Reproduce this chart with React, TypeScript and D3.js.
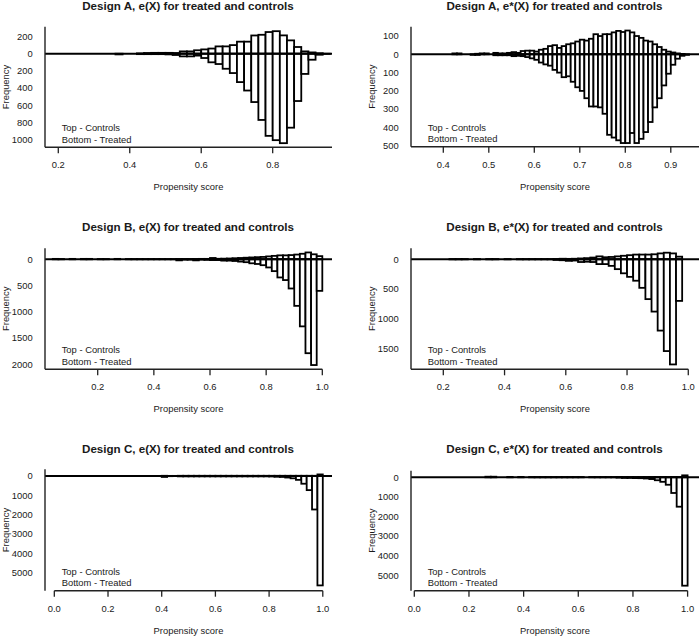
import React from "react";
import * as d3 from "d3";

// ---------- data (counts per bin; controls drawn upward, treated downward) ----------
const aLeftStart = 0.36;
const aLeftBin = 0.02;
const aLeftControls = [0, 0, 0, 3, 8, 10, 10, 10, 8, 27, 27, 40, 50, 60, 85, 85, 100, 140, 140, 212, 220, 252, 262, 213, 155, 78, 27, 15, 5, 0];
const aLeftTreated = [8, 0, 0, 5, 5, 5, 5, 8, 15, 31, 31, 22, 50, 100, 120, 175, 225, 330, 428, 562, 770, 955, 1005, 1040, 860, 550, 235, 70, 12, 2];

const aRightStart = 0.4;
const aRightBin = 0.01;
const aRightControls = [0, 0, 5, 5, 0, 0, 0, 3, 5, 5, 0, 8, 5, 5, 8, 12, 8, 18, 20, 20, 15, 25, 30, 45, 50, 35, 45, 55, 60, 70, 80, 75, 85, 110, 100, 110, 110, 120, 128, 122, 130, 120, 100, 90, 75, 70, 55, 40, 25, 15, 10, 5, 2, 0];
const aRightTreated = [0, 0, 0, 0, 0, 0, 3, 3, 0, 0, 0, 5, 5, 5, 5, 10, 8, 10, 15, 22, 30, 45, 55, 62, 85, 100, 125, 120, 150, 180, 200, 240, 285, 285, 290, 325, 440, 455, 470, 485, 485, 430, 485, 462, 425, 370, 290, 240, 170, 106, 57, 24, 8, 3];

const bLeftStart = 0.04;
const bLeftBin = 0.02;
const bLeftControls = [8, 5, 0, 8, 0, 8, 8, 0, 5, 5, 0, 8, 0, 5, 5, 5, 5, 5, 5, 5, 5, 5, 5, 5, 5, 5, 8, 8, 25, 10, 12, 15, 20, 25, 30, 35, 40, 45, 55, 65, 75, 75, 80, 90, 105, 130, 95, 60];
const bLeftTreated = [0, 0, 0, 0, 0, 0, 0, 0, 0, 0, 0, 0, 0, 0, 0, 0, 0, 0, 0, 0, 0, 0, 20, 5, 5, 20, 5, 10, 15, 15, 25, 25, 32, 44, 55, 76, 89, 112, 155, 225, 345, 395, 555, 885, 1275, 1785, 2010, 600];

const bRightStart = 0.1;
const bRightBin = 0.02;
const bRightControls = [0, 0, 0, 0, 0, 0, 5, 5, 5, 0, 5, 0, 5, 5, 0, 5, 0, 5, 5, 5, 5, 5, 5, 5, 10, 8, 10, 15, 20, 30, 50, 35, 40, 50, 60, 70, 80, 80, 80, 85, 100, 112, 100, 45];
const bRightTreated = [0, 0, 0, 0, 0, 0, 0, 0, 0, 0, 0, 0, 0, 0, 0, 0, 0, 0, 0, 0, 0, 0, 0, 10, 15, 25, 20, 45, 40, 45, 80, 80, 110, 165, 235, 295, 360, 480, 670, 880, 1200, 1545, 1770, 700];

const cLeftStart = 0.0;
const cLeftBin = 0.02;
const cLeftControls = [0, 0, 0, 0, 0, 0, 0, 0, 0, 0, 0, 0, 0, 0, 0, 0, 0, 0, 0, 0, 10, 5, 5, 10, 10, 10, 10, 10, 10, 10, 10, 10, 10, 10, 10, 10, 10, 10, 10, 10, 10, 10, 10, 10, 10, 10, 10, 10, 10, 80];
const cLeftTreated = [0, 0, 0, 0, 0, 0, 0, 0, 0, 0, 0, 0, 0, 0, 0, 0, 0, 0, 0, 0, 50, 10, 5, 20, 20, 20, 20, 20, 20, 20, 20, 20, 20, 20, 20, 20, 20, 20, 20, 20, 25, 40, 50, 80, 120, 200, 400, 730, 1730, 5650];

const cRightStart = 0.0;
const cRightBin = 0.02;
const cRightControls = [0, 0, 0, 0, 0, 0, 0, 0, 0, 0, 0, 0, 0, 30, 30, 0, 0, 20, 0, 20, 0, 15, 15, 15, 15, 15, 15, 15, 15, 15, 15, 0, 15, 15, 15, 15, 15, 15, 10, 10, 10, 10, 10, 10, 10, 10, 10, 10, 10, 100];
const cRightTreated = [0, 0, 0, 0, 0, 0, 0, 0, 0, 0, 0, 0, 0, 0, 0, 0, 0, 0, 0, 0, 0, 0, 0, 0, 0, 0, 0, 0, 0, 0, 0, 0, 0, 0, 0, 0, 0, 10, 30, 30, 40, 45, 60, 90, 150, 230, 380, 800, 1500, 5530];

const titles = [
  "Design A, e(X) for treated and controls",
  "Design A, e*(X) for treated and controls",
  "Design B, e(X) for treated and controls",
  "Design B, e*(X) for treated and controls",
  "Design C, e(X) for treated and controls",
  "Design C, e*(X) for treated and controls",
];

const xTicksA1 = [0.2, 0.4, 0.6, 0.8];
const xTicksA2 = [0.4, 0.5, 0.6, 0.7, 0.8, 0.9];
const xTicksB = [0.2, 0.4, 0.6, 0.8, 1.0];
const xTicksC = [0.0, 0.2, 0.4, 0.6, 0.8, 1.0];

const yUpA1 = [200];
const yDownA1 = [0, 200, 400, 600, 800, 1000];
const yUpA2 = [100];
const yDownA2 = [0, 100, 200, 300, 400, 500];
const yDownB1 = [0, 500, 1000, 1500, 2000];
const yDownB2 = [0, 500, 1000, 1500];
const yDownC = [0, 1000, 2000, 3000, 4000, 5000];

// ---------- layout ----------
type Panel = {
  title: string;
  start: number;
  bin: number;
  controls: number[];
  treated: number[];
  xDomain: [number, number];
  yTop: number;
  yBottom: number;
  left: number;
  right: number;
  top: number;
  bottom: number;
  titleY: number;
  xTicks: number[];
  xFmt: (v: number) => string;
  yUp: number[];
  yDown: number[];
  xLine: [number, number];
};

const fmt1 = d3.format(".1f");

const panels: Panel[] = [
  {
    title: titles[0], start: aLeftStart, bin: aLeftBin, controls: aLeftControls, treated: aLeftTreated,
    xDomain: [0.1628, 0.966], yTop: 314, yBottom: 1088,
    left: 45, right: 332, top: 26.7, bottom: 147.3, titleY: 10,
    xTicks: xTicksA1, xFmt: fmt1, yUp: yUpA1, yDown: yDownA1, xLine: [0.1628, 0.966],
  },
  {
    title: titles[1], start: aRightStart, bin: aRightBin, controls: aRightControls, treated: aRightTreated,
    xDomain: [0.329, 0.962], yTop: 151, yBottom: 505,
    left: 411, right: 699, top: 26.7, bottom: 146.7, titleY: 10,
    xTicks: xTicksA2, xFmt: fmt1, yUp: yUpA2, yDown: yDownA2, xLine: [0.329, 0.962],
  },
  {
    title: titles[2], start: bLeftStart, bin: bLeftBin, controls: bLeftControls, treated: bLeftTreated,
    xDomain: [0.0123, 1.0345], yTop: 209, yBottom: 2091,
    left: 45, right: 332, top: 248.3, bottom: 369.3, titleY: 231.3,
    xTicks: xTicksB, xFmt: fmt1, yUp: [], yDown: yDownB1, xLine: [0.0123, 1.0],
  },
  {
    title: titles[3], start: bRightStart, bin: bRightBin, controls: bRightControls, treated: bRightTreated,
    xDomain: [0.0945, 1.035], yTop: 186, yBottom: 1852,
    left: 411, right: 699, top: 248.3, bottom: 369.3, titleY: 231.3,
    xTicks: xTicksB, xFmt: fmt1, yUp: [], yDown: yDownB2, xLine: [0.0945, 1.0],
  },
  {
    title: titles[4], start: cLeftStart, bin: cLeftBin, controls: cLeftControls, treated: cLeftTreated,
    xDomain: [-0.0347, 1.0343], yTop: 345, yBottom: 5923,
    left: 45, right: 332, top: 469.3, bottom: 590.7, titleY: 453,
    xTicks: xTicksC, xFmt: fmt1, yUp: [], yDown: yDownC, xLine: [0, 1.0],
  },
  {
    title: titles[5], start: cRightStart, bin: cRightBin, controls: cRightControls, treated: cRightTreated,
    xDomain: [-0.0121, 1.0417], yTop: 337, yBottom: 5786,
    left: 411, right: 699, top: 470.7, bottom: 590.7, titleY: 453,
    xTicks: xTicksC, xFmt: fmt1, yUp: [], yDown: yDownC, xLine: [0, 1.0],
  },
];

const FONT = "'Liberation Sans', Arial, Helvetica, sans-serif";
const TXT = "#1a1a1a";

function HistPanel({ p }: { p: Panel }) {
  const x = d3.scaleLinear().domain(p.xDomain).range([p.left, p.right]);
  const y = d3.scaleLinear().domain([p.yTop, -p.yBottom]).range([p.top, p.bottom]);
  const cx = (p.left + p.right) / 2 - 0.5;
  const midY = (p.top + p.bottom) / 2;
  const yLabelRight = p.left - 12.3;
  const freqX = p.left - 36;

  const bars: JSX.Element[] = [];
  p.controls.forEach((v, i) => {
    if (v <= 0) return;
    const x0 = x(p.start + i * p.bin);
    const x1 = x(p.start + (i + 1) * p.bin);
    bars.push(
      <rect key={"c" + i} x={x0} y={y(v)} width={x1 - x0} height={y(0) - y(v)}
        fill="#fff" stroke="#000" strokeWidth={1.8} />
    );
  });
  p.treated.forEach((v, i) => {
    if (v <= 0) return;
    const x0 = x(p.start + i * p.bin);
    const x1 = x(p.start + (i + 1) * p.bin);
    bars.push(
      <rect key={"t" + i} x={x0} y={y(0)} width={x1 - x0} height={y(-v) - y(0)}
        fill="#fff" stroke="#000" strokeWidth={1.8} />
    );
  });

  return (
    <g>
      <text x={cx} y={p.titleY} textAnchor="middle" fontFamily={FONT} fontWeight="bold"
        fontSize={11.6} fill={TXT}>{p.title}</text>
      {bars}
      <line x1={p.left} x2={p.right} y1={y(0)} y2={y(0)} stroke="#000" strokeWidth={2} />
      {/* y axis */}
      <line x1={p.left} x2={p.left} y1={p.top} y2={p.bottom} stroke="#222" strokeWidth={1.4} />
      {p.yUp.map((v) => (
        <text key={"yu" + v} x={yLabelRight} y={y(v)} dy="0.35em" textAnchor="end"
          fontFamily={FONT} fontSize={9.4} fill={TXT}>{v}</text>
      ))}
      {p.yDown.map((v) => (
        <text key={"yd" + v} x={yLabelRight} y={y(-v)} dy="0.35em" textAnchor="end"
          fontFamily={FONT} fontSize={9.4} fill={TXT}>{v}</text>
      ))}
      {/* x axis */}
      <line x1={x(p.xLine[0])} x2={x(p.xLine[1])} y1={p.bottom} y2={p.bottom} stroke="#222" strokeWidth={1.4} />
      {p.xTicks.map((t) => (
        <g key={"xt" + t}>
          <line x1={x(t)} x2={x(t)} y1={p.bottom} y2={p.bottom + 6} stroke="#222" strokeWidth={1.3} />
          <text x={x(t)} y={p.bottom + 21} textAnchor="middle" fontFamily={FONT} fontSize={9.4} fill={TXT}>
            {p.xFmt(t)}
          </text>
        </g>
      ))}
      <text x={cx + 0.5} y={p.bottom + 43} textAnchor="middle" fontFamily={FONT} fontSize={9.4} fill={TXT}>
        Propensity score
      </text>
      <text transform={`translate(${freqX},${midY}) rotate(-90)`} textAnchor="middle"
        fontFamily={FONT} fontSize={9.4} fill={TXT}>Frequency</text>
      <text x={p.left + 16.7} y={p.bottom - 16} fontFamily={FONT} fontSize={9.4} fill={TXT}>Top - Controls</text>
      <text x={p.left + 16.7} y={p.bottom - 4.8} fontFamily={FONT} fontSize={9.4} fill={TXT}>Bottom - Treated</text>
    </g>
  );
}

export default function App() {
  return (
    <svg width={700} height={637} viewBox="0 0 700 637"
      style={{ position: "absolute", left: 0, top: 0, background: "#fff" }}>
      <rect x={0} y={0} width={700} height={637} fill="#fff" />
      {panels.map((p, i) => (
        <HistPanel key={i} p={p} />
      ))}
    </svg>
  );
}
